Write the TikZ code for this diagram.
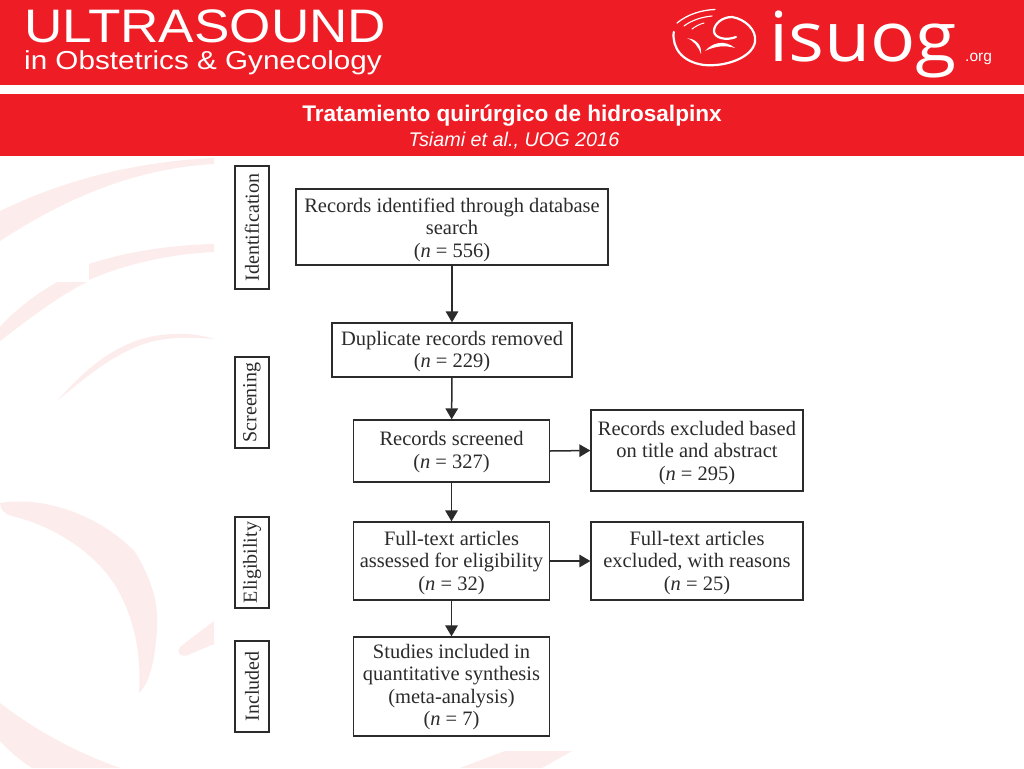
\documentclass[tikz,border=0pt]{standalone}
\usepackage{fontspec}
\setmainfont{Liberation Serif}
\setsansfont{Liberation Sans}
\newfontfamily\logofont{Open Sans}
\usetikzlibrary{arrows.meta}
\definecolor{hdred}{HTML}{EE1C25}
\definecolor{swoosh}{HTML}{FDECEC}
\definecolor{ink}{HTML}{2B2B2B}
\newcommand{\fl}[1]{\rule{0pt}{#1pt}}
\tikzset{
  flowbox/.style={draw=ink,line width=1.3pt,fill=white,text=ink,align=center,inner sep=0pt,font=\fontsize{20.5}{22.5}\selectfont},
  sidebox/.style={flowbox,rotate=90,minimum height=34pt,font=\fontsize{20}{22}\selectfont},
  flowarrow/.style={draw=ink,line width=1.5pt,-{Triangle[length=11pt,width=12.5pt]}},
  whitetext/.style={text=white,inner sep=0pt},
  logoline/.style={draw=white,line cap=round,fill=none},
  bgshape/.style={fill=swoosh,draw=none}
}
\begin{document}
\begin{tikzpicture}[x=1pt,y=-1pt]
\useasboundingbox (0,0) rectangle (1024,768);
\fill[white] (0,0) rectangle (1024,768);
% background swooshes
\fill[bgshape] (0,211) .. controls (60,182) and (130,162) .. (214,158) -- (214,164) .. controls (140,168) and (70,195) .. (0,241) -- cycle;
\fill[bgshape] (214,244) .. controls (170,245) and (125,252) .. (89,264) -- (89,280) .. controls (125,264) and (170,254) .. (214,252) -- cycle;
\fill[bgshape] (87,282) -- (57,282) .. controls (35,295) and (15,310) .. (0,327) -- (0,341) .. controls (25,322) and (55,298) .. (87,282) -- cycle;
\fill[bgshape] (58,400) .. controls (85,370) and (120,335) .. (175,334) .. controls (190,333) and (205,336) .. (214,339) .. controls (190,337) and (170,337) .. (150,342) .. controls (115,352) and (85,378) .. (58,400) -- cycle;
\fill[bgshape] (0,503) .. controls (50,495) and (105,520) .. (135,552) .. controls (155,585) and (160,610) .. (156,640) .. controls (154,665) and (148,685) .. (139,693) .. controls (141,660) and (137,625) .. (118,590) .. controls (95,550) and (50,525) .. (12,516) .. controls (5,514) and (0,510) .. (0,503) -- cycle;
\fill[bgshape] (214,621) -- (180,647) .. controls (176,652) and (180,658) .. (188,655) -- (214,644) -- cycle;
\fill[bgshape] (0,703) .. controls (35,730) and (75,752) .. (120,768) -- (32,768) .. controls (20,760) and (10,752) .. (0,741) -- cycle;
\fill[bgshape] (505,751) -- (572,751) -- (542,768) -- (460,768) -- cycle;
% header
\fill[hdred] (0,0) rectangle (1024,85);
\fill[hdred] (0,94) rectangle (1024,156);
\node[whitetext,anchor=base west] (journal) at (24,42) {\sffamily\fontsize{47}{47}\selectfont\scalebox{1.13}[1]{ULTRASOUND}};
\node[whitetext,anchor=base west] (journalsub) at (24,69) {\sffamily\fontsize{26}{26}\selectfont\scalebox{1.14}[1]{in Obstetrics \& Gynecology}};
\node[whitetext,anchor=base] (title) at (512,121) {\sffamily\bfseries\fontsize{22.6}{22.6}\selectfont Tratamiento quirúrgico de hidrosalpinx};
\node[whitetext,anchor=base] (cite) at (514,146) {\sffamily\itshape\fontsize{19.8}{19.8}\selectfont Tsiami et al., UOG 2016};
% logo
\draw[logoline,line width=2.2pt] (673.7,32) .. controls (672,48) and (682,62) .. (704,65) .. controls (725,67) and (752,58) .. (755,42) .. controls (757,30) and (745,19) .. (732,17) .. controls (722,17) and (714,24) .. (714,31) .. controls (714,38) and (726,41) .. (736,37);
\draw[logoline,line width=1.3pt] (677,23) .. controls (688,14) and (702,10) .. (715,9.5);
\draw[logoline,line width=1.1pt] (684,26) .. controls (692,20) and (702,17) .. (712,16);
\draw[logoline,line width=1pt] (692,29) .. controls (696,26) and (700,24) .. (704,23);
\fill[white] (687,38) .. controls (694,39) and (702,43) .. (701,54) .. controls (698,46) and (694,41) .. (687,38) -- cycle;
\fill[white] (705,51) .. controls (712,43) and (724,39) .. (735,48) .. controls (725,45) and (715,46) .. (705,51) -- cycle;
\node[whitetext,anchor=base west] (isuog) at (769,62) {\logofont\fontsize{69}{69}\selectfont\scalebox{1.09}[1]{isuog}};
\node[whitetext,anchor=base west] (org) at (965,62) {\sffamily\fontsize{15.5}{15.5}\selectfont .org};
% flow boxes
\node[flowbox,minimum width=312pt,minimum height=76pt] (A) at (452,227) {\fl{20}Records identified through database\\search\\(\textit{n} = 556)};
\node[flowbox,minimum width=240pt,minimum height=54pt] (B) at (452,350) {\fl{17}Duplicate records removed\\(\textit{n} = 229)};
\node[flowbox,minimum width=196pt,minimum height=62pt] (C) at (451.5,451) {\fl{16}Records screened\\(\textit{n} = 327)};
\node[flowbox,minimum width=212pt,minimum height=81pt] (D) at (697,450.5) {\fl{19}Records excluded based\\on title and abstract\\(\textit{n} = 295)};
\node[flowbox,minimum width=196pt,minimum height=78pt] (E) at (451.5,561) {\fl{18}Full-text articles\\assessed for eligibility\\(\textit{n} = 32)};
\node[flowbox,minimum width=212pt,minimum height=78pt] (F) at (697,561) {\fl{18}Full-text articles\\excluded, with reasons\\(\textit{n} = 25)};
\node[flowbox,minimum width=196pt,minimum height=99pt] (G) at (451.5,686.5) {\fl{15}Studies included in\\quantitative synthesis\\(meta-analysis)\\(\textit{n} = 7)};
% side labels
\node[sidebox,minimum width=123pt] (s1) at (252,227.5) {Identification};
\node[sidebox,minimum width=91pt] (s2) at (252,402.5) {Screening};
\node[sidebox,minimum width=91pt] (s3) at (252,562.5) {Eligibility};
\node[sidebox,minimum width=91pt] (s4) at (252,686.5) {Included};
% connectors
\draw[flowarrow] (A) -- (B);
\draw[flowarrow] (B) -- (C);
\draw[flowarrow] (C) -- (E);
\draw[flowarrow] (E) -- (G);
\draw[flowarrow] (C.east) -- (D.west);
\draw[flowarrow] (E) -- (F);
\end{tikzpicture}
\end{document}
